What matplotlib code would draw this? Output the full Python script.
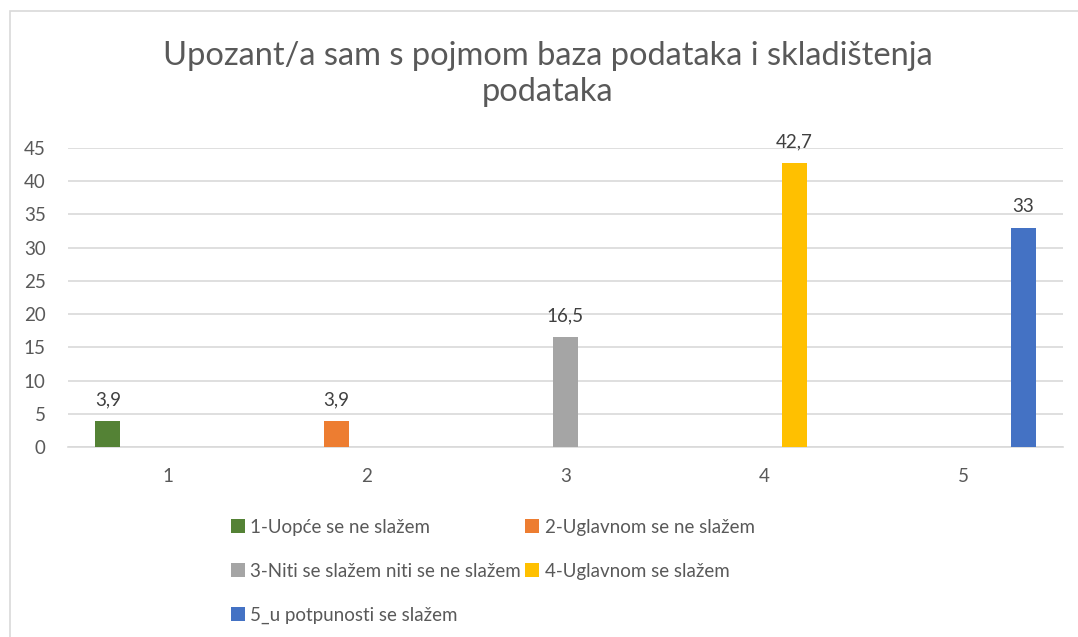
import numpy as np
import matplotlib
matplotlib.use("Agg")
from matplotlib import pyplot as plt
from matplotlib.patches import Rectangle

plt.rcParams['font.family'] = ['Lato', 'DejaVu Sans']

# podaci
categories = ["1", "2", "3", "4", "5"]
series_names = ["1-Uopće se ne slažem", "2-Uglavnom se ne slažem",
                "3-Niti se slažem niti se ne slažem", "4-Uglavnom se slažem",
                "5_u potpunosti se slažem"]
series_values = [3.9, 3.9, 16.5, 42.7, 33]
value_labels = ["3,9", "3,9", "16,5", "42,7", "33"]
colors = ["#548235", "#ED7D31", "#A5A5A5", "#FFC000", "#4472C4"]

txt = "#595959"

fig = plt.figure(figsize=(10.78, 6.37), dpi=100)
fig.patches.append(Rectangle((0.0095, -0.01), 1.2, 0.992, transform=fig.transFigure,
                             fill=False, edgecolor="#D9D9D9", linewidth=1.2))
ax = fig.add_axes([0.0631, 0.2983, 0.9229, 0.4694])

x = np.arange(len(categories))
slot = 0.15
width = 0.125
handles = []
for i, (name, val, lab, c) in enumerate(zip(series_names, series_values, value_labels, colors)):
    # svaka serija ima vrijednost samo u svojoj kategoriji
    vals = np.zeros(len(categories))
    vals[i] = val
    pos = x + (i - 2) * slot
    b = ax.bar(pos, vals, width=width, color=c, label=name, zorder=3)
    handles.append(b)
    ax.text(pos[i], val + 1.9, lab, ha="center", va="bottom", fontsize=13.5, color="#404040")

ax.set_xlim(-0.5, len(categories) - 0.5)
ax.set_ylim(0, 45)
ax.set_yticks(np.arange(0, 50, 5))
ax.set_xticks(x)
ax.set_xticklabels(categories)
ax.tick_params(axis="both", length=0, labelsize=13.5, labelcolor=txt)
ax.tick_params(axis="x", pad=15)
ax.tick_params(axis="y", pad=16)
ax.grid(axis="y", color="#D9D9D9", linewidth=1.2, zorder=0)
for s in ["top", "right", "left"]:
    ax.spines[s].set_visible(False)
ax.spines["bottom"].set_color("#D9D9D9")
ax.spines["bottom"].set_linewidth(1.2)

fig.suptitle("Upozant/a sam s pojmom baza podataka i skladištenja\npodataka",
             x=0.508, y=0.936, fontsize=23.5, color=txt, linespacing=1.25)

order = [0, 2, 4, 1, 3]
fig.legend([handles[k] for k in order], [series_names[k] for k in order],
           ncol=2, loc="upper left", bbox_to_anchor=(0.214, 0.186), frameon=False,
           fontsize=13.5, labelcolor=txt, handlelength=0.75, handleheight=0.75,
           handletextpad=0.3, columnspacing=0.2, labelspacing=1.45,
           borderaxespad=0, borderpad=0)

fig.savefig("out.png", dpi=100)
